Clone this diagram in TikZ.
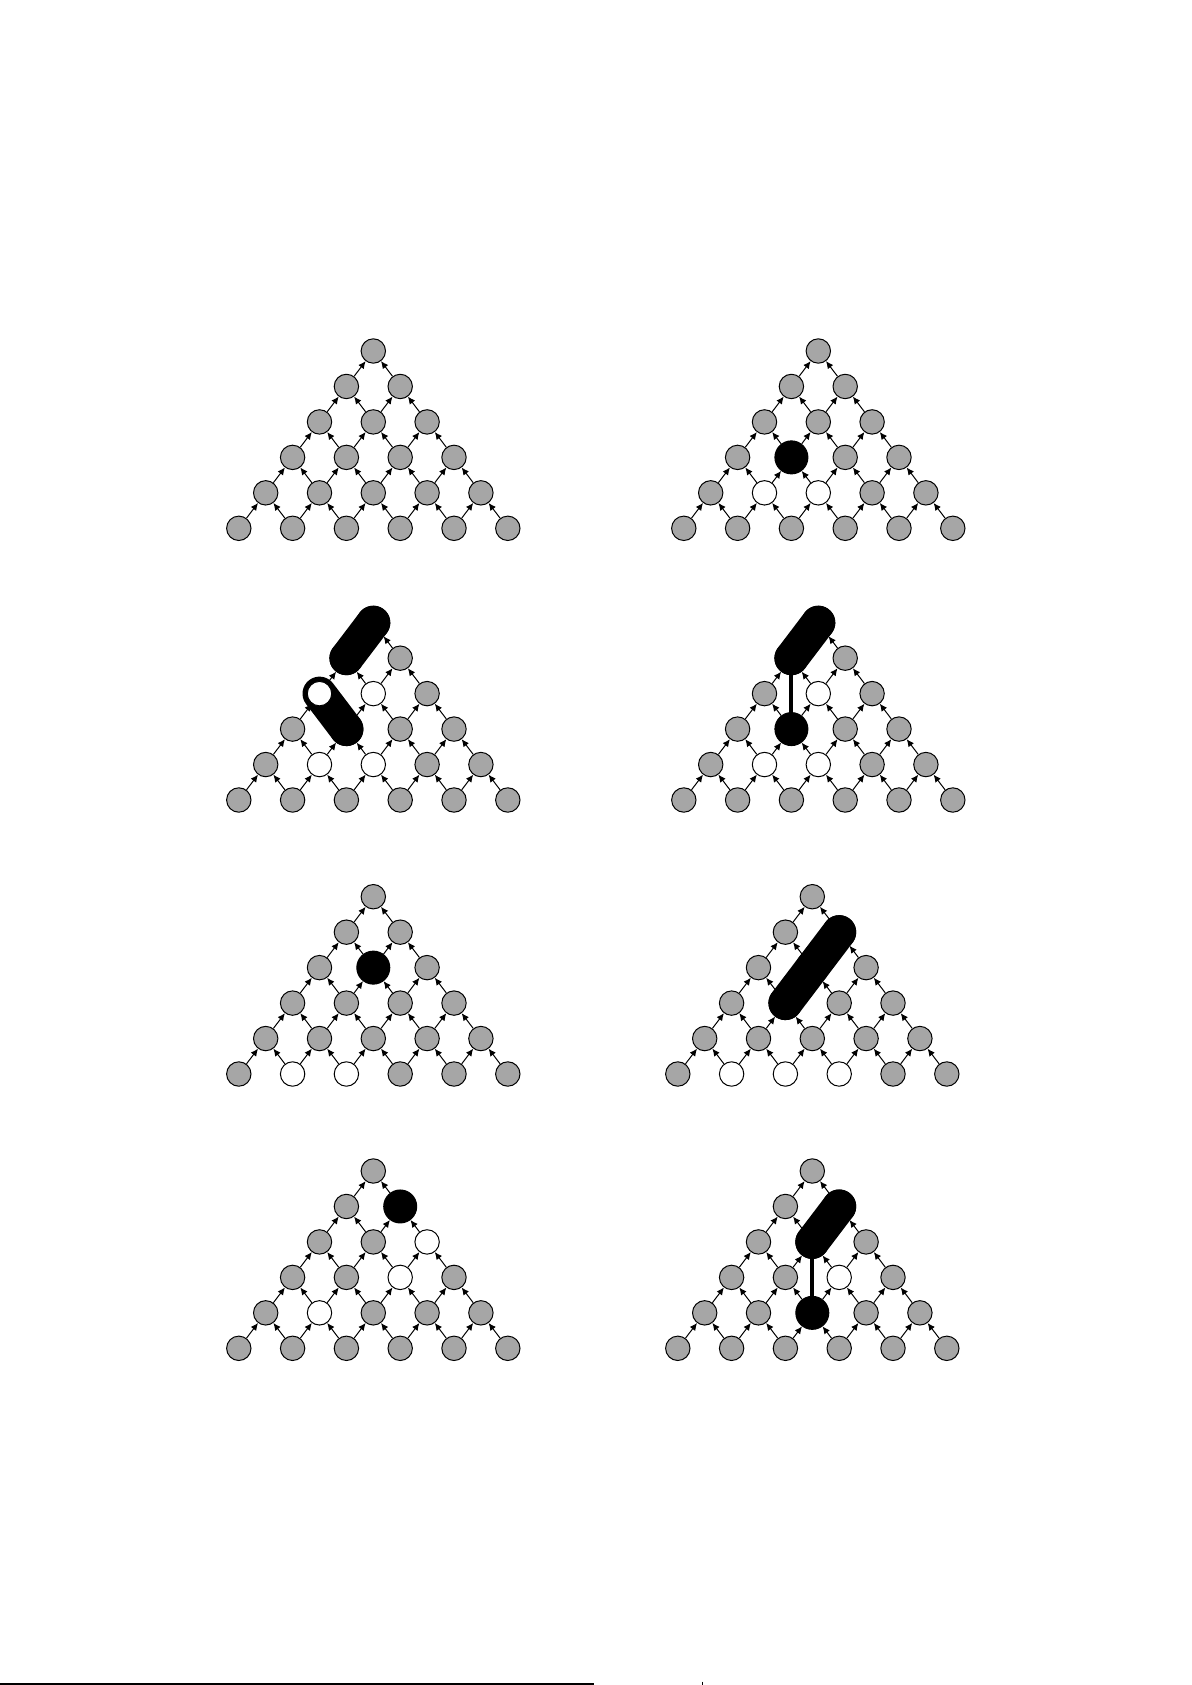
\documentclass[tikz,border=0pt]{standalone}
\usetikzlibrary{arrows.meta}
\pgfdeclarelayer{bg}
\pgfdeclarelayer{mid}
\pgfsetlayers{bg,mid,main}
\tikzset{
  x=0.5pt,y=-0.5pt,
  gnode/.style={circle,draw=black,line width=0.5pt,fill=gray!70,inner sep=0pt,minimum size=12.2pt},
  wnode/.style={fill=white},
  bnode/.style={fill=black,minimum size=16.5pt},
  cell/.code={\edef\mycell{c#1}\pgfkeysifdefined{/tikz/\mycell/.@cmd}{\expandafter\pgfkeysalso\expandafter{\mycell}}{}},
  edgearrow/.style={line width=0.5pt,-{Latex[length=3.7pt,width=3.4pt]}},
  pill/.style={line width=17pt,line cap=round,draw=black},
  barline/.style={line width=2pt,draw=black},
}
\newcommand\tripanel[4]{%
  \begin{scope}[shift={(#2,#3)},#4]
    \foreach \r in {0,...,5}{%
      \foreach \k in {0,...,\r}{%
        \node[gnode,cell=\r\k] (#1-\r-\k) at ({(\k-\r/2)*53.8},{\r*35.46}) {};
      }%
    }%
    \begin{pgfonlayer}{bg}
    \foreach \r in {1,...,5}{%
      \pgfmathtruncatemacro\rup{\r-1}%
      \foreach \k in {0,...,\r}{%
        \ifnum\k>0
          \pgfmathtruncatemacro\kup{\k-1}%
          \draw[edgearrow] (#1-\r-\k) -- (#1-\rup-\kup);
        \fi
        \ifnum\k<\r
          \draw[edgearrow] (#1-\r-\k) -- (#1-\rup-\k);
        \fi
      }%
    }%
    \end{pgfonlayer}
  \end{scope}%
}
\begin{document}
\begin{tikzpicture}
\useasboundingbox (0,0) rectangle (1191,1685);
% row 1
\tripanel{A}{373.3}{351}{}
\tripanel{B}{818.3}{351}{c31/.style={bnode},c41/.style={wnode},c42/.style={wnode}}
% row 2
\tripanel{C}{373.3}{622.7}{c00/.style={bnode},c10/.style={bnode},c20/.style={wnode},c21/.style={wnode},c31/.style={bnode},c41/.style={wnode},c42/.style={wnode}}
\tripanel{D}{818.3}{622.7}{c00/.style={bnode},c10/.style={bnode},c21/.style={wnode},c31/.style={bnode},c41/.style={wnode},c42/.style={wnode}}
% row 3
\tripanel{E}{373.3}{896.7}{c21/.style={bnode},c51/.style={wnode},c52/.style={wnode}}
\tripanel{F}{812.3}{896.7}{c11/.style={bnode},c21/.style={bnode},c31/.style={bnode},c51/.style={wnode},c52/.style={wnode},c53/.style={wnode}}
% row 4
\tripanel{G}{373.3}{1171}{c11/.style={bnode},c22/.style={wnode},c32/.style={wnode},c41/.style={wnode}}
\tripanel{H}{812.3}{1171}{c11/.style={bnode},c21/.style={bnode},c32/.style={wnode},c42/.style={bnode}}
% pills and bars
\begin{pgfonlayer}{mid}
  \draw[pill] (C-0-0.center) -- (C-1-0.center);
  \draw[pill] (C-2-0.center) -- (C-3-1.center);
  \draw[pill] (D-0-0.center) -- (D-1-0.center);
  \draw[barline] (D-1-0.center) -- (D-3-1.center);
  \draw[pill] (F-1-1.center) -- (F-3-1.center);
  \draw[pill] (H-1-1.center) -- (H-2-1.center);
  \draw[barline] (H-2-1.center) -- (H-4-2.center);
\end{pgfonlayer}
% bottom rule
\coordinate (ruleA) at (0,1684);
\coordinate (ruleB) at (594,1684);
\draw[line width=1pt] (ruleA) -- (ruleB);
\coordinate (tickA) at (702,1681.5);
\coordinate (tickB) at (702,1685);
\draw[line width=0.5pt] (tickA) -- (tickB);
\end{tikzpicture}
\end{document}
